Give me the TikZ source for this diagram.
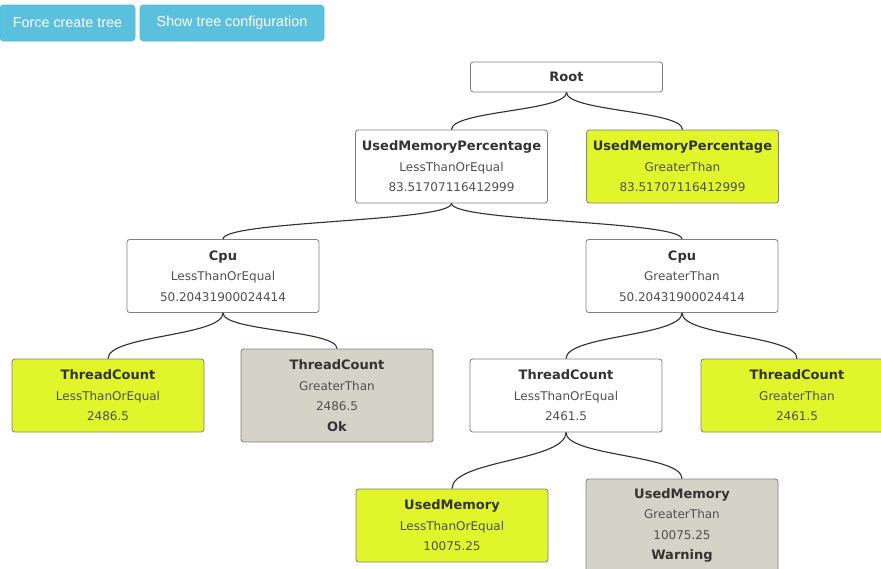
\documentclass[tikz,border=0pt]{standalone}
\usepackage{fontspec}
\setmainfont{DejaVu Sans}
\newfontfamily\btnfont{Liberation Sans}
\usepackage{xcolor}
\usepackage{tikz}

\definecolor{btnblue}{RGB}{91,192,222}
\definecolor{btnedge}{RGB}{70,184,218}
\definecolor{leafyellow}{RGB}{224,245,42}
\definecolor{leafgray}{RGB}{212,211,200}
\definecolor{boxedge}{RGB}{128,128,128}
\definecolor{headtext}{RGB}{51,51,51}
\definecolor{subtext}{RGB}{80,80,80}

\newcommand{\tnhead}[1]{{\fontsize{9.75}{15.4}\selectfont\bfseries\color{headtext}#1}}

\tikzset{
  btn/.style={draw=btnedge, fill=btnblue, rounded corners=2.5pt, text=white,
    font=\btnfont\fontsize{10.75}{12}\selectfont, minimum height=27pt, inner sep=0pt},
  tnode/.style={draw=boxedge, fill=white, rounded corners=2pt, text=subtext,
    font=\fontsize{9}{15.4}\selectfont, align=center, minimum width=144pt,
    minimum height=54.75pt, inner sep=0pt, line width=0.6pt},
  tleaf/.style={tnode, fill=leafyellow},
  tend/.style={tnode, fill=leafgray, minimum height=69.75pt},
  link/.style={draw={rgb,255:red,51;green,51;blue,51}, line width=0.85pt}
}

\begin{document}
\begin{tikzpicture}
[x=0.75pt,y=0.75pt,yscale=-1,xscale=1]
\useasboundingbox (0,0) rectangle (881,568);
\clip (0,0) rectangle (881,568);

% buttons
\node [btn, minimum width=101.25pt] (btnforce) at (67.5,23) {Force create tree};
\node [btn, minimum width=138pt] (btnshow) at (232,23) {Show tree configuration};

% tree boxes
\node [tnode, minimum height=22.5pt] (root) at (566.5,77) {\tnhead{Root}};

\node [tnode] (umple) at (451.5,166.5) {\tnhead{UsedMemoryPercentage}\\LessThanOrEqual\\83.51707116412999};
\node [tleaf] (umpgt) at (682.5,166.5) {\tnhead{UsedMemoryPercentage}\\GreaterThan\\83.51707116412999};

\node [tnode] (cpule) at (223,276) {\tnhead{Cpu}\\LessThanOrEqual\\50.20431900024414};
\node [tnode] (cpugt) at (682,276) {\tnhead{Cpu}\\GreaterThan\\50.20431900024414};

\node [tleaf] (tcle) at (108,395.5) {\tnhead{ThreadCount}\\LessThanOrEqual\\2486.5};
\node [tend] (tcgt) at (337,395.5) {\tnhead{ThreadCount}\\GreaterThan\\2486.5\\\tnhead{Ok}};
\node [tnode] (tcletwo) at (566,395.5) {\tnhead{ThreadCount}\\LessThanOrEqual\\2461.5};
\node [tleaf] (tcgttwo) at (797,395.5) {\tnhead{ThreadCount}\\GreaterThan\\2461.5};

\node [tleaf] (umle) at (452,525.5) {\tnhead{UsedMemory}\\LessThanOrEqual\\10075.25};
\node [tend] (umgt) at (682,525.5) {\tnhead{UsedMemory}\\GreaterThan\\10075.25\\\tnhead{Warning}};

% links, parent bottom to child top
\foreach \a/\b/\h in {root/umple/19, root/umpgt/19,
                      umple/cpule/18.5, umple/cpugt/18.5,
                      cpule/tcle/23.5, cpule/tcgt/18.5,
                      cpugt/tcletwo/23.5, cpugt/tcgttwo/23.5,
                      tcletwo/umle/28.5, tcletwo/umgt/24}
  \draw [link] (\a.south) .. controls +(0,\h) and +(0,-\h) .. (\b.north);

\end{tikzpicture}
\end{document}
